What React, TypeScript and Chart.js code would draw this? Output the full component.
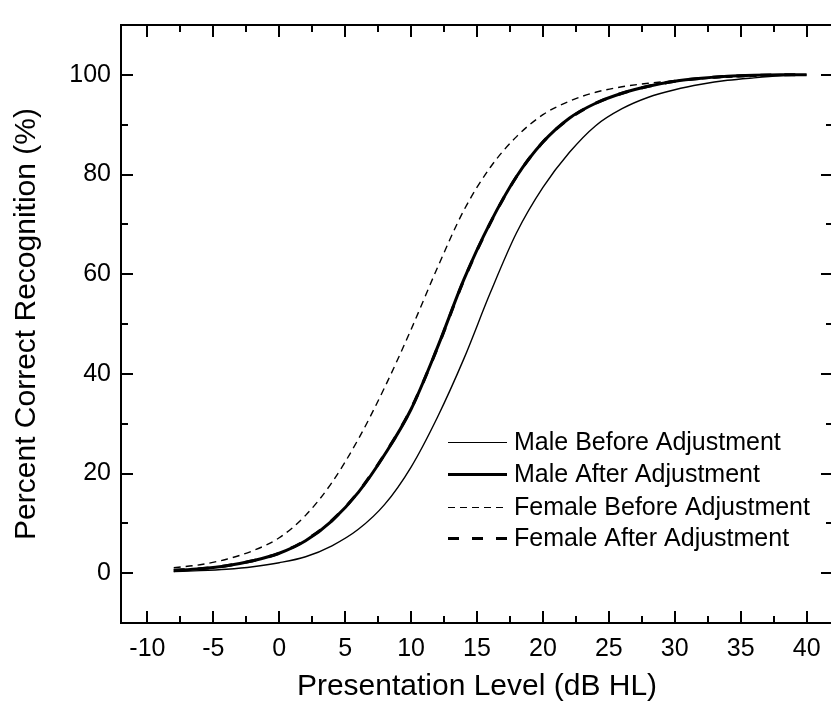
import React, { useEffect, useRef } from "react";
import { Chart, registerables } from "chart.js";

Chart.register(...registerables);

const FONT = "'Liberation Sans', Arial, Helvetica, sans-serif";

// Presentation level (dB HL)
const levels = [-8, -6, -4, -2, 0, 2, 4, 6, 8, 10, 12, 14, 16, 18, 20, 22, 24, 26, 28, 30, 32, 34, 36, 38, 40];

// Percent correct recognition (%)
const maleBefore = [0.3, 0.5, 0.8, 1.3, 2.1, 3.3, 5.5, 8.8, 13.8, 21.3, 31.3, 43.0, 56.2, 68.3, 77.4, 84.4, 89.8, 93.2, 95.5, 97.0, 98.1, 98.9, 99.4, 99.8, 100];
const maleAfter = [0.5, 0.9, 1.5, 2.5, 4.0, 6.5, 10.5, 16.2, 23.8, 32.9, 45.3, 58.9, 70.3, 79.6, 86.5, 91.3, 94.3, 96.3, 97.7, 98.7, 99.3, 99.7, 99.9, 100, 100];
const femaleBefore = [1.1, 1.7, 2.8, 4.5, 7.1, 11.6, 18.2, 26.9, 37.3, 48.9, 61.3, 72.8, 81.4, 87.6, 92.0, 94.7, 96.5, 97.6, 98.3, 98.8, 99.2, 99.5, 99.7, 99.9, 100];
const femaleAfter = [0.6, 0.9, 1.5, 2.5, 4.0, 6.6, 10.6, 16.3, 23.9, 33.0, 45.2, 58.8, 70.2, 79.6, 86.5, 91.2, 94.3, 96.3, 97.7, 98.7, 99.3, 99.7, 99.9, 100, 100];

const seriesLabels = [
  "Male Before Adjustment",
  "Male After Adjustment",
  "Female Before Adjustment",
  "Female After Adjustment",
];

const xMajorTicks = [-10, -5, 0, 5, 10, 15, 20, 25, 30, 35, 40];
const xMinorTicks = [-7.5, -2.5, 2.5, 7.5, 12.5, 17.5, 22.5, 27.5, 32.5, 37.5];
const yMajorTicks = [0, 20, 40, 60, 80, 100];
const yMinorTicks = [10, 30, 50, 70, 90];

const xTitle = "Presentation Level (dB HL)";
const yTitle = "Percent Correct Recognition (%)";

const toPoints = (vals: number[]) => levels.map((x, i) => ({ x, y: vals[i] }));

const framePlugin = {
  id: "frameTicks",
  afterDraw(chart: any) {
    const { ctx, chartArea, scales } = chart;
    const { left, right, top, bottom } = chartArea;
    const xs = scales.x;
    const ys = scales.y;
    const major = 12;
    const minor = 7;
    ctx.save();
    ctx.strokeStyle = "#000";
    ctx.lineWidth = 2;
    ctx.beginPath();
    ctx.rect(left, top, right - left, bottom - top);
    ctx.stroke();
    const seg = (x1: number, y1: number, x2: number, y2: number) => {
      ctx.beginPath();
      ctx.moveTo(x1, y1);
      ctx.lineTo(x2, y2);
      ctx.stroke();
    };
    xMajorTicks.forEach((v) => {
      const p = Math.round(xs.getPixelForValue(v));
      seg(p, bottom, p, bottom - major);
      seg(p, top, p, top + major);
    });
    xMinorTicks.forEach((v) => {
      const p = Math.round(xs.getPixelForValue(v));
      seg(p, bottom, p, bottom - minor);
      seg(p, top, p, top + minor);
    });
    yMajorTicks.forEach((v) => {
      const p = Math.round(ys.getPixelForValue(v));
      seg(left, p, left + major, p);
      seg(right, p, right - major, p);
    });
    yMinorTicks.forEach((v) => {
      const p = Math.round(ys.getPixelForValue(v));
      seg(left, p, left + minor, p);
      seg(right, p, right - minor, p);
    });
    ctx.restore();
  },
};

const legendPlugin = {
  id: "insideLegend",
  afterDraw(chart: any) {
    const { ctx } = chart;
    const lineX1 = 448;
    const lineX2 = 507;
    const textX = 514;
    const rowY = [442, 474, 507, 538];
    ctx.save();
    chart.data.datasets.forEach((ds: any, i: number) => {
      const w = ds.borderWidth < 2 ? 1 : 3;
      const y = rowY[i] + (w % 2 === 1 ? 0.5 : 0);
      ctx.strokeStyle = "#000";
      ctx.lineWidth = w;
      ctx.setLineDash(ds.borderDash || []);
      ctx.beginPath();
      ctx.moveTo(lineX1, y);
      ctx.lineTo(lineX2, y);
      ctx.stroke();
      ctx.setLineDash([]);
      ctx.fillStyle = "#000";
      ctx.font = `25px ${FONT}`;
      ctx.textBaseline = "middle";
      ctx.textAlign = "left";
      ctx.fillText(ds.label, textX, rowY[i] + 1);
    });
    ctx.restore();
  },
};

export default function App() {
  const canvasRef = useRef<HTMLCanvasElement | null>(null);

  useEffect(() => {
    const canvas = canvasRef.current;
    if (!canvas) return;
    const common = {
      borderColor: "#000",
      backgroundColor: "#000",
      pointRadius: 0,
      fill: false,
      cubicInterpolationMode: "monotone" as const,
    };
    const chart = new Chart(canvas, {
      type: "line",
      data: {
        datasets: [
          { ...common, label: seriesLabels[0], data: toPoints(maleBefore), borderWidth: 1.4 },
          { ...common, label: seriesLabels[1], data: toPoints(maleAfter), borderWidth: 3 },
          { ...common, label: seriesLabels[2], data: toPoints(femaleBefore), borderWidth: 1.4, borderDash: [7, 5] },
          { ...common, label: seriesLabels[3], data: toPoints(femaleAfter), borderWidth: 3, borderDash: [11, 13] },
        ],
      },
      options: {
        responsive: false,
        animation: false,
        events: [],
        layout: { padding: { left: 0, top: 6, right: 7, bottom: 0 } },
        plugins: {
          legend: { display: false },
          tooltip: { enabled: false },
        },
        scales: {
          x: {
            type: "linear",
            min: -12,
            max: 42,
            grid: { display: false, drawTicks: false },
            border: { display: false },
            afterBuildTicks: (s: any) => {
              s.ticks = xMajorTicks.map((v) => ({ value: v }));
            },
            afterFit: (s: any) => {
              s.height = 91;
            },
            ticks: {
              color: "#000",
              font: { family: FONT, size: 25 },
              padding: 11,
              maxRotation: 0,
              autoSkip: false,
              callback: (v: any) => String(v),
            },
            title: {
              display: true,
              text: xTitle,
              color: "#000",
              font: { family: FONT, size: 30 },
              padding: { top: 0, bottom: 9 },
            },
          },
          y: {
            type: "linear",
            min: -10,
            max: 110,
            grid: { display: false, drawTicks: false },
            border: { display: false },
            afterBuildTicks: (s: any) => {
              s.ticks = yMajorTicks.map((v) => ({ value: v }));
            },
            afterFit: (s: any) => {
              s.width = 121;
            },
            ticks: {
              color: "#000",
              font: { family: FONT, size: 25 },
              padding: 10,
              autoSkip: false,
              callback: (v: any) => String(v),
            },
            title: {
              display: true,
              text: yTitle,
              color: "#000",
              font: { family: FONT, size: 30 },
              padding: { top: 9, bottom: 0 },
            },
          },
        },
      },
      plugins: [framePlugin, legendPlugin],
    });
    return () => chart.destroy();
  }, []);

  return (
    <div
      style={{
        position: "fixed",
        left: 0,
        top: 0,
        width: 831,
        height: 714,
        overflow: "hidden",
        background: "#fff",
      }}
    >
      <canvas ref={canvasRef} width={840} height={714} style={{ width: 840, height: 714, display: "block" }} />
    </div>
  );
}
